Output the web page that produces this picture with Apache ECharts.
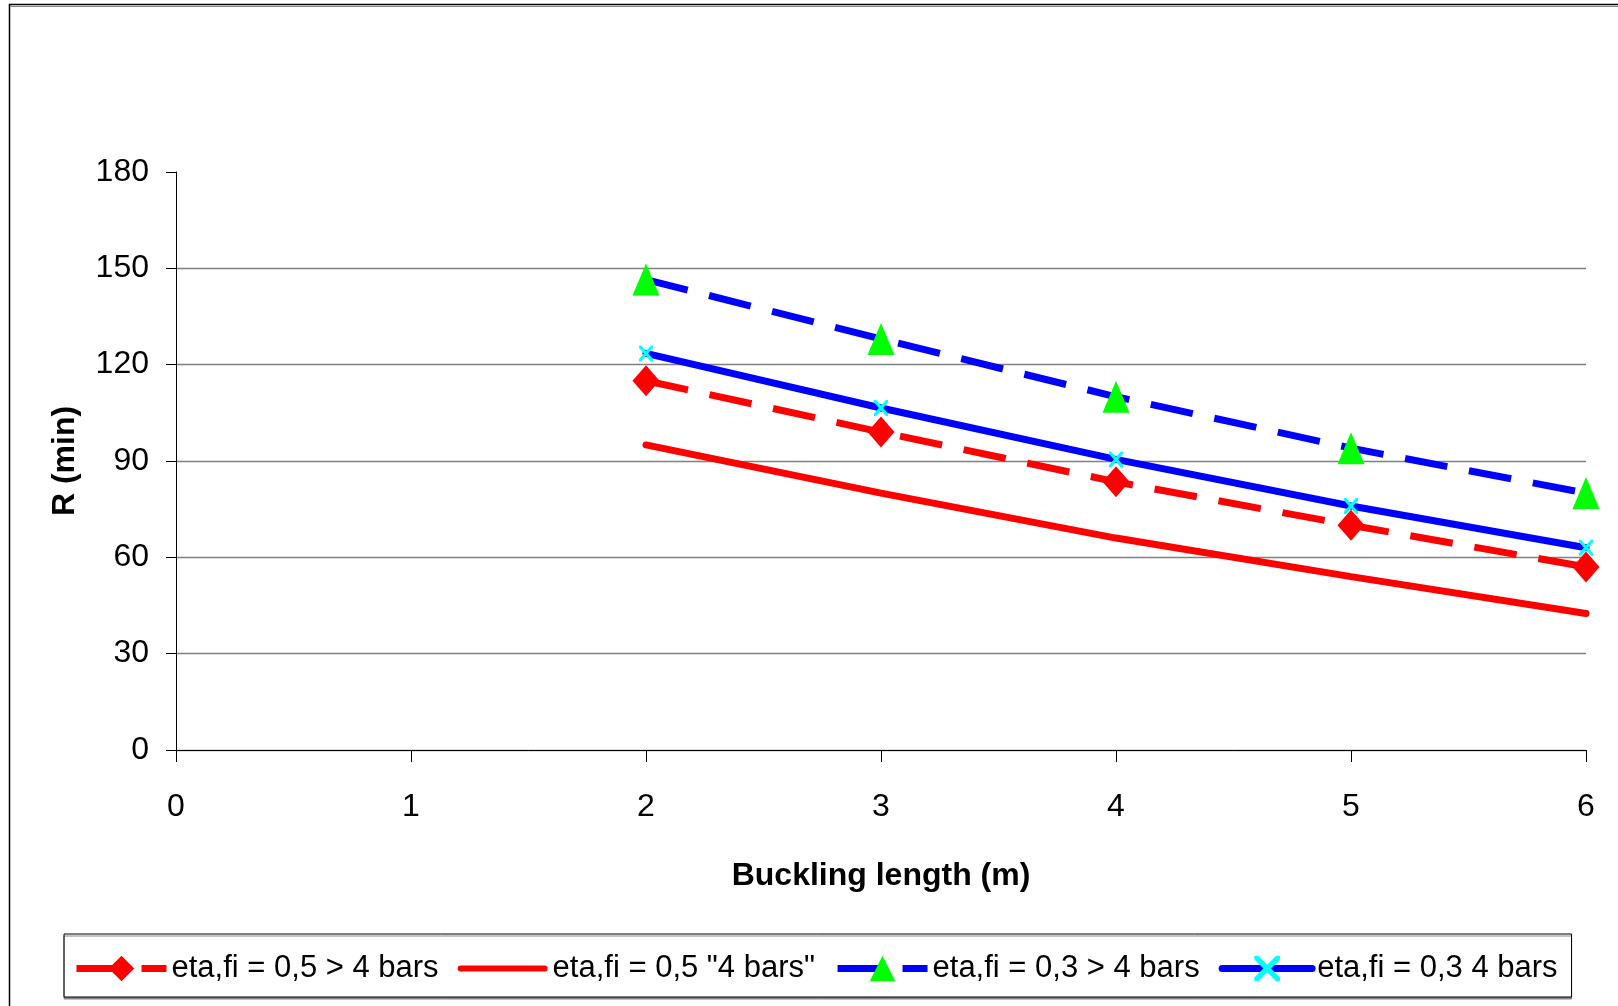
<!DOCTYPE html>
<html><head><meta charset="utf-8">
<script src="https://cdn.jsdelivr.net/npm/echarts@6/dist/echarts.min.js"></script>
<style>html,body{margin:0;padding:0;background:#fff}#c{width:1618px;height:1006px}</style>
</head><body><div id="c"></div>
<script>
// ---- data ----
const bucklingLength = [2, 3, 4, 5, 6];
const eta05Over4 = [115, 99, 83.5, 70, 57];
const eta05Four = [95, 80, 66, 54, 42.5];
const eta03Over4 = [146.5, 128, 110, 94, 80];
const eta03Four = [123.5, 106.5, 90.5, 76, 63];
const seriesNames = ['eta,fi = 0,5 > 4 bars', 'eta,fi = 0,5 "4 bars"', 'eta,fi = 0,3 > 4 bars', 'eta,fi = 0,3 4 bars'];
const xAxisTitle = 'Buckling length (m)';
const yAxisTitle = 'R (min)';

const FONT = "'Liberation Sans', Arial, sans-serif";
const pairs = ys => bucklingLength.map((x, i) => [x, ys[i]]);
const crossPath = 'path://M0,0L3,0L10,7L17,0L20,0L20,3L13,10L20,17L20,20L17,20L10,13L3,20L0,20L0,17L7,10L0,3Z';
const thickLinePath = 'path://M3,0H85A3,3 0 0 1 85,6H3A3,3 0 0 1 3,0Z';

const chart = echarts.init(document.getElementById('c'), null, {renderer: 'canvas'});
chart.setOption({
  backgroundColor: '#fff',
  animation: false,
  textStyle: {fontFamily: FONT, color: '#000'},
  graphic: [
    {type: 'rect', silent: true, z: -1, shape: {x: 9.5, y: 4.5, width: 1700, height: 1100},
     style: {fill: 'none', stroke: '#000', lineWidth: 1.5}},
    {type: 'line', silent: true, z: -1, shape: {x1: 10, y1: 6.5, x2: 1618, y2: 6.5},
     style: {stroke: '#888', lineWidth: 1}}
  ],
  grid: {left: 176, right: 32, top: 172, bottom: 256, containLabel: false},
  xAxis: {
    type: 'value', min: 0, max: 6, interval: 1,
    name: xAxisTitle, nameLocation: 'middle', nameGap: 110,
    nameTextStyle: {fontFamily: FONT, fontWeight: 'bold', fontSize: 32, color: '#000'},
    axisLine: {onZero: false, lineStyle: {color: '#000', width: 1}},
    axisTick: {show: true, inside: false, length: 12, lineStyle: {color: '#000'}},
    axisLabel: {margin: 41, fontSize: 32, color: '#000', fontFamily: FONT},
    splitLine: {show: false}
  },
  yAxis: {
    type: 'value', min: 0, max: 180, interval: 30,
    name: yAxisTitle, nameLocation: 'middle', nameGap: 95,
    nameTextStyle: {fontFamily: FONT, fontWeight: 'bold', fontSize: 32, color: '#000'},
    axisLine: {show: true, lineStyle: {color: '#000', width: 1}},
    axisTick: {show: true, inside: false, length: 10, lineStyle: {color: '#000'}},
    axisLabel: {margin: 27, fontSize: 32, color: '#000', fontFamily: FONT},
    splitLine: {show: true, lineStyle: {color: ['#808080','#808080','#808080','#808080','#808080','#808080','rgba(0,0,0,0)'], width: 1.3}}
  },
  legend: {
    left: 64, top: 934,
    padding: [19, 14, 13, 9],
    itemGap: 19, itemWidth: 90, itemHeight: 32,
    borderColor: '#000', borderWidth: 1,
    shadowColor: '#888', shadowOffsetY: 2, shadowOffsetX: 0, shadowBlur: 0,
    backgroundColor: '#fff',
    lineStyle: {width: 'inherit'},
    textStyle: {fontSize: 31, fontFamily: FONT, color: '#000'},
    data: [
      {name: seriesNames[0]},
      {name: seriesNames[1], icon: thickLinePath},
      {name: seriesNames[2]},
      {name: seriesNames[3]}
    ]
  },
  series: [
    {name: seriesNames[0], type: 'line', data: pairs(eta05Over4),
     symbol: 'diamond', symbolSize: [27, 31], showSymbol: true,
     itemStyle: {color: '#ff0000'},
     lineStyle: {color: '#ff0000', width: 7, type: [43, 22], cap: 'butt'}},
    {name: seriesNames[1], type: 'line', data: pairs(eta05Four),
     symbol: 'none',
     itemStyle: {color: '#ff0000'},
     lineStyle: {color: '#ff0000', width: 7, type: 'solid', cap: 'round'}},
    {name: seriesNames[2], type: 'line', data: pairs(eta03Over4),
     symbol: 'triangle', symbolSize: [27, 32],
     itemStyle: {color: '#00ff00'},
     lineStyle: {color: '#0000ff', width: 7, type: [43, 22], cap: 'butt'}},
    {name: seriesNames[3], type: 'line', data: pairs(eta03Four),
     symbol: crossPath, symbolSize: [14, 16],
     itemStyle: {color: '#00ffff'},
     lineStyle: {color: '#0000ff', width: 7, type: 'solid', cap: 'round'}}
  ]
});
</script></body></html>
